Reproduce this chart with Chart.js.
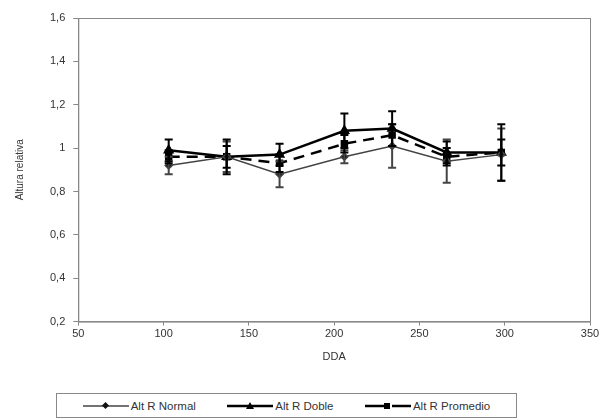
<!DOCTYPE html>
<html>
<head>
<meta charset="utf-8">
<script src="https://cdn.jsdelivr.net/npm/chart.js@4"></script>
<style>
  body { margin: 0; background: #fff; }
  #wrap { position: relative; width: 603px; height: 420px; }
  #legend {
    position: absolute; left: 56px; top: 393px; width: 461px; height: 25px;
    border: 1px solid #888; box-sizing: border-box; background: #fff;
    font: 11.5px "Liberation Sans", Arial, sans-serif; color: #333;
    display: flex; align-items: center; justify-content: space-around; padding: 0 10px;
  }
  #legend span.item { display: flex; align-items: center; }
  #legend svg { margin-right: 2px; }
</style>
</head>
<body>
<div id="wrap">
  <canvas id="chart" width="603" height="420"></canvas>
  <div id="legend"></div>
</div>
<script>
var dda = [103, 137, 168, 206, 234, 266, 298];

var altNormal = [0.92, 0.96, 0.88, 0.96, 1.01, 0.94, 0.97];
var errNormal = [0.04, 0.07, 0.06, 0.03, 0.10, 0.10, 0.12];

var altDoble = [0.99, 0.96, 0.97, 1.08, 1.09, 0.98, 0.98];
var errDoble = [0.05, 0.08, 0.05, 0.08, 0.08, 0.05, 0.13];

var altPromedio = [0.96, 0.96, 0.93, 1.02, 1.06, 0.96, 0.98];
var errPromedio = [0.03, 0.05, 0.04, 0.04, 0.05, 0.04, 0.06];

var seriesNames = ['Alt R Normal', 'Alt R Doble', 'Alt R Promedio'];

function toPoints(vals) {
    return vals.map(function (v, i) { return { x: dda[i], y: v }; });
}

var errs = [errNormal, errDoble, errPromedio];

var errorBars = {
    id: 'errorBars',
    afterDatasetsDraw: function (chart) {
        var ctx = chart.ctx;
        var xs = chart.scales.x, ys = chart.scales.y;
        chart.data.datasets.forEach(function (ds, k) {
            ctx.save();
            ctx.strokeStyle = ds.borderColor;
            ctx.lineWidth = 2;
            ctx.setLineDash([]);
            ds.data.forEach(function (p, i) {
                var e = errs[k][i];
                var px = xs.getPixelForValue(p.x);
                var top = ys.getPixelForValue(p.y + e);
                var bot = ys.getPixelForValue(p.y - e);
                ctx.beginPath();
                ctx.moveTo(px, top); ctx.lineTo(px, bot);
                ctx.moveTo(px - 4, top); ctx.lineTo(px + 4, top);
                ctx.moveTo(px - 4, bot); ctx.lineTo(px + 4, bot);
                ctx.stroke();
            });
            ctx.restore();
        });
    }
};

var frame = {
    id: 'frame',
    afterDraw: function (chart) {
        var a = chart.chartArea, ctx = chart.ctx;
        ctx.save();
        ctx.strokeStyle = '#888';
        ctx.lineWidth = 1;
        ctx.strokeRect(a.left + 0.5, a.top + 0.5, a.right - a.left, a.bottom - a.top);
        ctx.restore();
    }
};

var fontFam = '"Liberation Sans", Arial, sans-serif';

new Chart(document.getElementById('chart').getContext('2d'), {
    type: 'line',
    data: {
        datasets: [{
            label: seriesNames[0],
            data: toPoints(altNormal),
            borderColor: '#444',
            backgroundColor: '#111',
            borderWidth: 1.5,
            pointStyle: 'rectRot',
            pointRadius: 3.5,
            tension: 0
        }, {
            label: seriesNames[1],
            data: toPoints(altDoble),
            borderColor: '#000',
            backgroundColor: '#000',
            borderWidth: 2.5,
            pointStyle: 'triangle',
            pointRadius: 4,
            tension: 0
        }, {
            label: seriesNames[2],
            data: toPoints(altPromedio),
            borderColor: '#000',
            backgroundColor: '#000',
            borderWidth: 2.5,
            borderDash: [11, 7],
            pointStyle: 'rect',
            pointRadius: 3.5,
            tension: 0
        }]
    },
    options: {
        responsive: false,
        animation: false,
        layout: { padding: { left: 10, right: 13, top: 18, bottom: 52 } },
        plugins: { legend: { display: false }, tooltip: { enabled: false } },
        scales: {
            x: {
                type: 'linear', min: 50, max: 350,
                ticks: { stepSize: 50, color: '#333', font: { family: fontFam, size: 11 }, padding: 2 },
                grid: { drawOnChartArea: false, drawTicks: true, tickLength: 4, color: '#888' },
                border: { color: '#888' },
                title: { display: true, text: 'DDA', color: '#333', font: { family: fontFam, size: 11 }, padding: { top: 8 } }
            },
            y: {
                min: 0.2, max: 1.6,
                ticks: {
                    stepSize: 0.2, color: '#333', font: { family: fontFam, size: 11 }, padding: 8,
                    callback: function (v) { return String(Math.round(v * 10) / 10).replace('.', ','); }
                },
                grid: { drawOnChartArea: false, drawTicks: true, tickLength: 5, color: '#888' },
                border: { color: '#888' },
                title: { display: true, text: 'Altura relativa', color: '#333', font: { family: fontFam, size: 10 }, padding: { bottom: 16 } }
            }
        }
    },
    plugins: [errorBars, frame]
});

// legend with line samples
var legendSamples = [
    '<svg width="46" height="10"><line x1="0" y1="5" x2="46" y2="5" stroke="#444" stroke-width="1.5"/><rect x="20" y="2" width="5" height="5" fill="#111" transform="rotate(45 22.5 4.5)"/></svg>',
    '<svg width="46" height="10"><line x1="0" y1="5" x2="46" y2="5" stroke="#000" stroke-width="2.5"/><polygon points="23,1 27,8 19,8" fill="#000"/></svg>',
    '<svg width="46" height="10"><line x1="0" y1="5" x2="46" y2="5" stroke="#000" stroke-width="2.5" stroke-dasharray="20 7"/><rect x="19" y="2" width="6" height="6" fill="#000"/></svg>'
];
document.getElementById('legend').innerHTML = seriesNames.map(function (n, i) {
    return '<span class="item">' + legendSamples[i] + n + '</span>';
}).join('');
</script>
</body>
</html>
